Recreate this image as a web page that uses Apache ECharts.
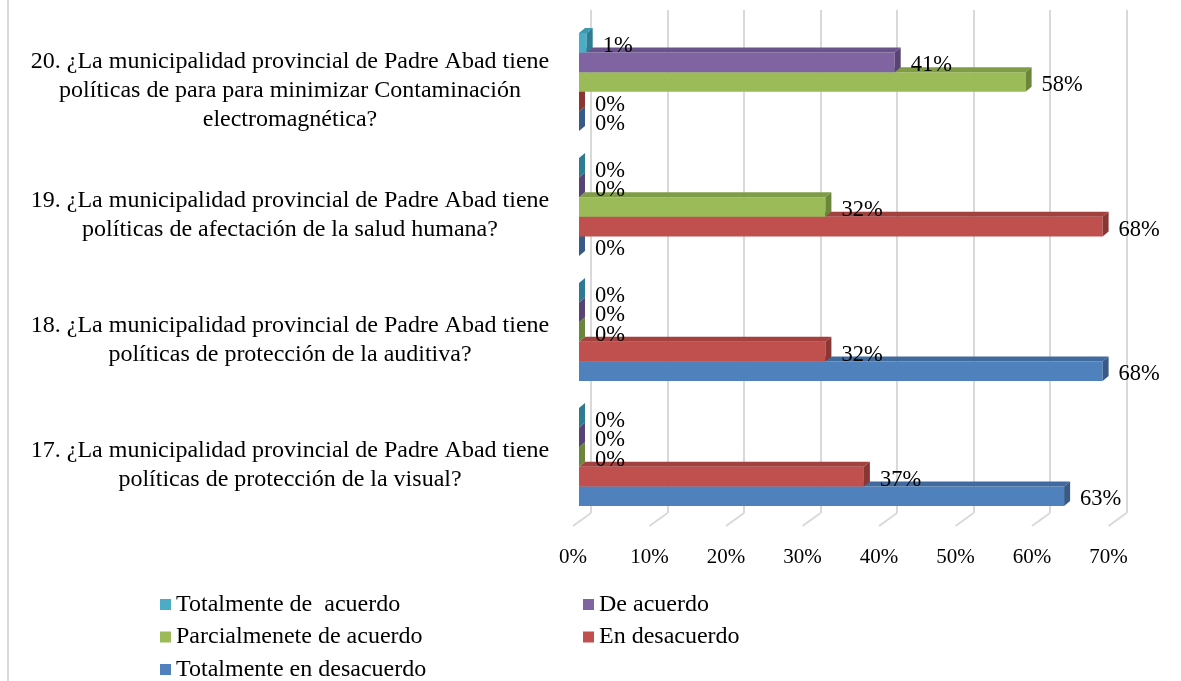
<!DOCTYPE html>
<html>
<head>
<meta charset="utf-8">
<script src="https://cdn.jsdelivr.net/npm/echarts@6/dist/echarts.min.js"></script>
<style>
    html, body { margin: 0; padding: 0; background: #fff; }
    #chart { width: 1181px; height: 681px; }
</style>
</head>
<body>
<div id="chart"></div>
<script>
// preguntas (de abajo hacia arriba)
const categories = [
    '17. ¿La municipalidad provincial de Padre Abad tiene\npolíticas de protección de la visual?',
    '18. ¿La municipalidad provincial de Padre Abad tiene\npolíticas de protección de la auditiva?',
    '19. ¿La municipalidad provincial de Padre Abad tiene\npolíticas de afectación de la salud humana?',
    '20. ¿La municipalidad provincial de Padre Abad tiene\npolíticas de para para minimizar Contaminación\nelectromagnética?'
];

// porcentajes por respuesta
const totalmenteDeAcuerdo = [0, 0, 0, 1];
const deAcuerdo = [0, 0, 0, 41];
const parcialmenteDeAcuerdo = [0, 0, 32, 58];
const enDesacuerdo = [37, 32, 68, 0];
const totalmenteEnDesacuerdo = [63, 68, 0, 0];

const xTicks = [0, 10, 20, 30, 40, 50, 60, 70];

const FONT = '"Liberation Serif", "Times New Roman", serif';

// nombre, valores, cara frontal, cara superior, cara lateral
const seriesDefs = [
    { name: 'Totalmente de  acuerdo', data: totalmenteDeAcuerdo, colors: ['#4BACC6', '#3C97AF', '#2E7C91'] },
    { name: 'De acuerdo', data: deAcuerdo, colors: ['#8064A2', '#6A528A', '#584474'] },
    { name: 'Parcialmenete de acuerdo', data: parcialmenteDeAcuerdo, colors: ['#9BBB59', '#7F9C47', '#6B853A'] },
    { name: 'En desacuerdo', data: enDesacuerdo, colors: ['#C0504D', '#A2413E', '#8A3633'] },
    { name: 'Totalmente en desacuerdo', data: totalmenteEnDesacuerdo, colors: ['#4F81BD', '#416B9E', '#375A86'] }
];

const DX = 6, DY = 5; // profundidad 3D

function make3dBar(idx, colors) {
    return function (params, api) {
        const v = api.value(0);
        const cat = api.value(1);
        const start = api.coord([0, cat]);
        const end = api.coord([v, cat]);
        const band = api.size([0, 1])[1];
        const h = band * 0.157;
        const y0 = start[1] + (idx - 2.5) * h;
        const x0 = start[0], x1 = end[0];
        return {
            type: 'group',
            children: [
                {
                    type: 'rect',
                    shape: { x: x0, y: y0, width: x1 - x0, height: h },
                    style: { fill: colors[0] }
                },
                {
                    type: 'polygon',
                    shape: { points: [[x0, y0], [x1, y0], [x1 + DX, y0 - DY], [x0 + DX, y0 - DY]] },
                    style: { fill: colors[1] }
                },
                {
                    type: 'polygon',
                    shape: { points: [[x1, y0], [x1 + DX, y0 - DY], [x1 + DX, y0 + h - DY], [x1, y0 + h]] },
                    style: { fill: colors[2] }
                },
                {
                    type: 'text',
                    style: {
                        x: x1 + 16, y: y0 + h / 2 + 3,
                        text: v + '%',
                        fill: '#000',
                        fontSize: 22.5,
                        fontFamily: FONT,
                        verticalAlign: 'middle'
                    }
                }
            ]
        };
    };
}

const chart = echarts.init(document.getElementById('chart'));

const barSeries = seriesDefs.map((s, i) => ({
    name: s.name,
    type: 'custom',
    xAxisIndex: 0,
    yAxisIndex: 0,
    z: 10 - i,
    color: s.colors[0],
    itemStyle: { color: s.colors[0] },
    encode: { x: 0, y: 1 },
    renderItem: make3dBar(i, s.colors),
    data: s.data.map((v, c) => [v, c])
}));

const legendText = { fontSize: 24, fontFamily: FONT, color: '#000', lineHeight: 29 };

chart.setOption({
    backgroundColor: '#fff',
    animation: false,
    textStyle: { fontFamily: FONT },
    graphic: [{
        type: 'line',
        shape: { x1: 8, y1: 0, x2: 8, y2: 681 },
        style: { stroke: '#d9d9d9', lineWidth: 2 }
    }],
    grid: [
        // barras
        { left: 579, right: 63, top: 19.5, bottom: 161.5 },
        // pared del fondo (líneas de división)
        { left: 591, right: 54.5, top: 10, bottom: 168 },
        // etiquetas del eje x
        { left: 573, right: 72.5, top: 19.5, bottom: 161.5 }
    ],
    legend: [
        {
            orient: 'vertical',
            left: 160,
            top: 590,
            height: 120,
            padding: 0,
            itemWidth: 11,
            itemHeight: 11,
            itemGap: 3.5,
            icon: 'rect',
            textStyle: legendText,
            data: [seriesDefs[0].name, seriesDefs[2].name, seriesDefs[4].name]
        },
        {
            orient: 'vertical',
            left: 583,
            top: 590,
            height: 120,
            padding: 0,
            itemWidth: 11,
            itemHeight: 11,
            itemGap: 3.5,
            icon: 'rect',
            textStyle: legendText,
            data: [seriesDefs[1].name, seriesDefs[3].name]
        }
    ],
    xAxis: [
        {
            gridIndex: 0, type: 'value', min: 0, max: 70, interval: 10,
            axisLine: { show: false }, axisTick: { show: false },
            axisLabel: { show: false }, splitLine: { show: false }
        },
        {
            gridIndex: 1, type: 'value', min: 0, max: 70, interval: 10,
            axisLine: { show: false }, axisTick: { show: false },
            axisLabel: { show: false },
            splitLine: { show: true, lineStyle: { color: '#d9d9d9', width: 2 } }
        },
        {
            gridIndex: 2, type: 'value', min: 0, max: 70, interval: 10,
            axisLine: { show: false }, axisTick: { show: false },
            splitLine: { show: false },
            axisLabel: {
                margin: 27,
                fontSize: 21,
                fontFamily: FONT,
                color: '#000',
                formatter: '{value}%'
            }
        }
    ],
    yAxis: [
        {
            gridIndex: 0,
            type: 'category',
            data: categories,
            axisLine: { show: false },
            axisTick: { show: false },
            axisLabel: { show: false }
        },
        { gridIndex: 1, type: 'value', min: 0, max: 1, show: false },
        { gridIndex: 2, type: 'value', min: 0, max: 1, show: false }
    ],
    series: [
        // piso inclinado de las líneas de división
        {
            type: 'custom',
            xAxisIndex: 1,
            yAxisIndex: 1,
            z: 1,
            silent: true,
            renderItem: function (params, api) {
                const p = api.coord([api.value(0), 0]);
                return {
                    type: 'line',
                    shape: { x1: p[0], y1: p[1], x2: p[0] - 18, y2: p[1] + 13 },
                    style: { stroke: '#d9d9d9', lineWidth: 2 }
                };
            },
            data: xTicks.map(t => [t])
        },
        // textos de las preguntas, centrados a la izquierda de cada grupo
        {
            type: 'custom',
            xAxisIndex: 0,
            yAxisIndex: 0,
            silent: true,
            renderItem: function (params, api) {
                const p = api.coord([0, api.value(0)]);
                return {
                    type: 'text',
                    style: {
                        x: p[0] - 289,
                        y: p[1] + 8.5,
                        text: categories[api.value(0)],
                        fill: '#000',
                        fontSize: 24,
                        lineHeight: 29,
                        fontFamily: FONT,
                        align: 'center',
                        verticalAlign: 'middle'
                    }
                };
            },
            data: categories.map((c, i) => [i])
        },
        ...barSeries
    ]
});
</script>
</body>
</html>
